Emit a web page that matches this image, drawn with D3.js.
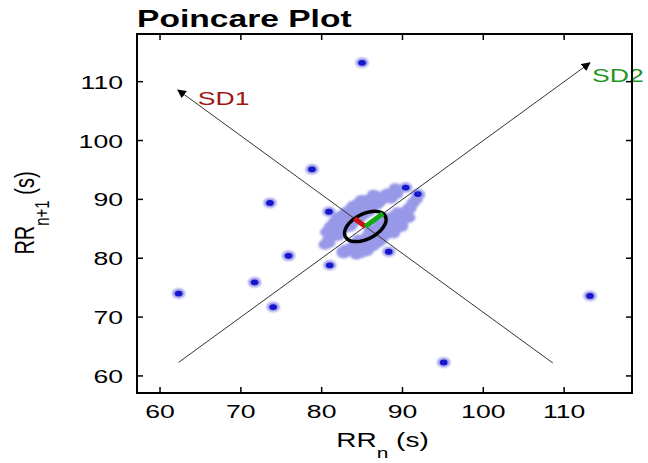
<!DOCTYPE html>
<html><head><meta charset="utf-8">
<script src="https://cdn.jsdelivr.net/npm/d3@7"></script>
<style>
body{margin:0;background:#fff}
text{font-family:"Liberation Sans",Arial,Helvetica,sans-serif}
</style>
</head><body>
<svg id="chart" width="648" height="463"></svg>
<script>
// RR interval series (s); Poincare points are consecutive pairs (RR_n, RR_n+1)
const rrIntervals = [
  86.0, 83.5, 87.8, 84.2, 88.9, 85.1, 87.3, 83.0, 85.9, 88.4, 84.7, 86.8, 89.2, 86.1, 83.9,
  86.5, 84.0, 82.3, 85.6, 87.9, 85.2, 88.6, 90.1, 87.0, 89.5, 86.4, 84.1, 81.9, 84.6, 83.2,
  86.9, 85.0, 88.1, 91.0, 88.7, 90.6, 88.0, 85.4, 87.6, 84.8, 82.5, 84.9, 82.0, 83.8, 81.4,
  83.9, 86.2, 84.4, 87.4, 89.8, 87.2, 85.7, 88.3, 86.0, 84.3, 86.7, 89.0, 91.3, 89.4, 91.7,
  90.0, 87.7, 85.8, 83.4, 85.3, 82.8, 80.9, 82.6, 81.1, 83.6, 85.5, 83.1, 86.3, 88.8, 86.6,
  84.5, 87.1, 85.9, 88.2, 86.4, 89.6, 87.5, 90.4, 92.0, 90.8, 88.5, 86.1, 83.7, 81.8, 84.2,
  86.8, 84.0, 86.6, 89.1, 87.3, 85.0, 82.7, 80.8, 83.0, 81.5, 84.1, 82.4, 85.8, 87.9, 85.6,
  83.3, 86.0, 88.6, 86.2, 84.8, 87.0, 89.3, 90.9, 88.4, 86.9, 84.6, 82.1, 84.7, 87.2, 85.1,
  82.9, 81.0, 78.8, 95.1, 62.3, 74.0, 71.7, 75.9, 80.4, 82.3, 84.9, 83.0, 86.1, 84.2, 87.7,
  85.9, 88.0, 86.3, 89.7, 87.4, 90.5, 88.1, 86.8, 85.0, 113.2, 73.6, 89.4, 87.8, 85.4, 88.3,
  81.1, 83.5, 85.7, 83.8, 86.4, 88.9, 86.5, 84.3, 81.7, 84.0, 86.2, 84.4, 86.7, 89.1, 91.9,
  90.9, 88.6, 86.0, 84.9, 80.9, 87.9, 85.6, 83.2, 85.9, 88.2, 86.1, 84.6, 86.9, 85.2, 89.9,
  85.6, 81.2, 85.5, 89.9, 86.3, 82.0, 86.8, 83.1, 87.9, 84.0, 88.8, 84.3, 80.6, 84.4, 89.2,
  85.0, 89.6, 85.8, 81.6, 86.2, 82.4, 87.0, 82.7, 86.4, 90.8, 86.9, 83.6, 88.4, 84.9, 89.9,
  85.3, 81.3, 85.4, 82.2, 86.7, 90.6, 86.8, 82.5, 87.3, 83.0, 87.8, 83.9, 88.9, 84.2, 81.0,
  85.2, 89.7, 85.5
];
const xTicks = [60, 70, 80, 90, 100, 110];
const yTicks = [60, 70, 80, 90, 100, 110];
const xDomain = [57.15, 118.4];
const yDomain = [57.1, 118.1];

// Poincare descriptors
const sdCenter = [85.4, 85.4];
const sd1 = 1.9;
const sd2 = 3.1;
const sd1Axis = [[108.6, 62.2], [62.2, 108.6]];
const sd2Axis = [[62.3, 62.3], [113.2, 113.2]];

const titleText = "Poincare Plot";

const m = {left: 137, right: 632, top: 34, bottom: 393};
const stretch = 1.4;           // horizontal text stretch of the figure
const fontTick = 19, fontLabel = 20, fontTitle = 24;

const svg = d3.select("#chart");
const x = d3.scaleLinear().domain(xDomain).range([m.left, m.right]);
const y = d3.scaleLinear().domain(yDomain).range([m.bottom, m.top]);

const defs = svg.append("defs");
defs.append("filter").attr("id", "soft").attr("x", "-50%").attr("y", "-50%").attr("width", "200%").attr("height", "200%")
  .append("feGaussianBlur").attr("stdDeviation", 1.1);
defs.append("filter").attr("id", "softCore").attr("x", "-50%").attr("y", "-50%").attr("width", "200%").attr("height", "200%")
  .append("feGaussianBlur").attr("stdDeviation", 0.7);
defs.append("marker").attr("id", "arrow").attr("viewBox", "0 0 10 10")
  .attr("refX", 9).attr("refY", 5).attr("markerWidth", 9).attr("markerHeight", 9)
  .attr("markerUnits", "userSpaceOnUse").attr("orient", "auto")
  .append("path").attr("d", "M0,0 L10,5 L0,10 Z").attr("fill", "#000");

// points: soft halo for every beat pair, dark core where beats are sparse
const pts = d3.pairs(rrIntervals).map(([a, b]) => ({px: x(a), py: y(b)}));
pts.forEach(p => {
  p.n = pts.filter(q => q !== p && Math.hypot(q.px - p.px, q.py - p.py) < 10).length;
});

const plot = svg.append("g");
plot.append("g").attr("filter", "url(#soft)")
  .selectAll("ellipse").data(pts).join("ellipse")
  .attr("cx", d => d.px).attr("cy", d => d.py)
  .attr("rx", 6.5).attr("ry", 5)
  .attr("fill", "rgb(152,152,232)");
plot.append("g").attr("filter", "url(#softCore)")
  .selectAll("ellipse").data(pts.filter(d => d.n < 3)).join("ellipse")
  .attr("cx", d => d.px).attr("cy", d => d.py)
  .attr("rx", 3.8).attr("ry", 2.9)
  .attr("fill", "rgb(20,20,205)");

// SD axes with arrowheads
const line = d3.line().x(d => x(d[0])).y(d => y(d[1]));
[sd1Axis, sd2Axis].forEach(a => {
  plot.append("path").attr("d", line(a)).attr("fill", "none")
    .attr("stroke", "#333").attr("stroke-width", 1)
    .attr("marker-end", "url(#arrow)");
});

// SD ellipse and descriptor segments
const r2 = Math.SQRT1_2;
const ell = d3.range(0, 361, 5).map(t => {
  const a = t * Math.PI / 180;
  return [sdCenter[0] + sd2 * Math.cos(a) * r2 - sd1 * Math.sin(a) * r2,
          sdCenter[1] + sd2 * Math.cos(a) * r2 + sd1 * Math.sin(a) * r2];
});
plot.append("path").attr("d", line(ell) + "Z").attr("fill", "none")
  .attr("stroke", "#000").attr("stroke-width", 3.5);
plot.append("path").attr("d", line([sdCenter, [sdCenter[0] - sd1 * r2, sdCenter[1] + sd1 * r2]]))
  .attr("stroke", "rgb(200,20,20)").attr("stroke-width", 5);
plot.append("path").attr("d", line([sdCenter, [sdCenter[0] + sd2 * r2, sdCenter[1] + sd2 * r2]]))
  .attr("stroke", "rgb(20,170,20)").attr("stroke-width", 5);

function stretchedText(g, tx, ty, str, opts = {}) {
  const t = g.append("text")
    .attr("transform", `translate(${tx},${ty}) scale(${stretch},1)` + (opts.rotate ? ` rotate(${opts.rotate})` : ""))
    .attr("font-size", opts.size || fontLabel)
    .attr("font-weight", opts.weight || "normal")
    .attr("fill", opts.fill || "#000")
    .attr("text-anchor", opts.anchor || "start");
  if (typeof str === "string") t.text(str);
  return t;
}
// SD labels next to the arrow tips
const sdEnd1 = sd1Axis[1], sdEnd2 = sd2Axis[1];
stretchedText(svg, x(sdEnd1[0]) + 20, y(sdEnd1[1]) + 15, "SD1", {fill: "rgb(160,20,20)", size: 19});
stretchedText(svg, x(sdEnd2[0]) + 2, y(sdEnd2[1]) + 19, "SD2", {fill: "rgb(30,150,30)", size: 19});

// frame
svg.append("rect").attr("x", m.left).attr("y", m.top)
  .attr("width", m.right - m.left).attr("height", m.bottom - m.top)
  .attr("fill", "none").attr("stroke", "#000").attr("stroke-width", 2);

// ticks on all four sides, pointing inward
const tk = 6;
const tg = svg.append("g").attr("stroke", "#000").attr("stroke-width", 1.5);
xTicks.forEach(v => {
  tg.append("line").attr("x1", x(v)).attr("x2", x(v)).attr("y1", m.bottom).attr("y2", m.bottom - tk);
  tg.append("line").attr("x1", x(v)).attr("x2", x(v)).attr("y1", m.top).attr("y2", m.top + tk);
});
yTicks.forEach(v => {
  tg.append("line").attr("y1", y(v)).attr("y2", y(v)).attr("x1", m.left).attr("x2", m.left + tk);
  tg.append("line").attr("y1", y(v)).attr("y2", y(v)).attr("x1", m.right).attr("x2", m.right - tk);
});

// tick labels
xTicks.forEach(v => stretchedText(svg, x(v), m.bottom + 25, String(v), {size: fontTick, anchor: "middle"}));
yTicks.forEach(v => stretchedText(svg, m.left - 14, y(v) + 7, String(v), {size: fontTick, anchor: "end"}));

// title
stretchedText(svg, m.left, 27, titleText, {size: fontTitle, weight: "bold"});

// axis labels
const xl = stretchedText(svg, (m.left + m.right) / 2 - 2, 447, null, {size: fontLabel, anchor: "middle"});
xl.append("tspan").text("RR");
xl.append("tspan").attr("dy", 11).attr("font-size", 15).text("n");
xl.append("tspan").attr("dy", -11).text(" (s)");

const yl = stretchedText(svg, 34, 213, null, {size: fontLabel, anchor: "middle", rotate: -90});
yl.append("tspan").text("RR");
yl.append("tspan").attr("dy", 11).attr("font-size", 15).text("n+1");
yl.append("tspan").attr("dy", -11).text(" (s)");
</script>
</body></html>
